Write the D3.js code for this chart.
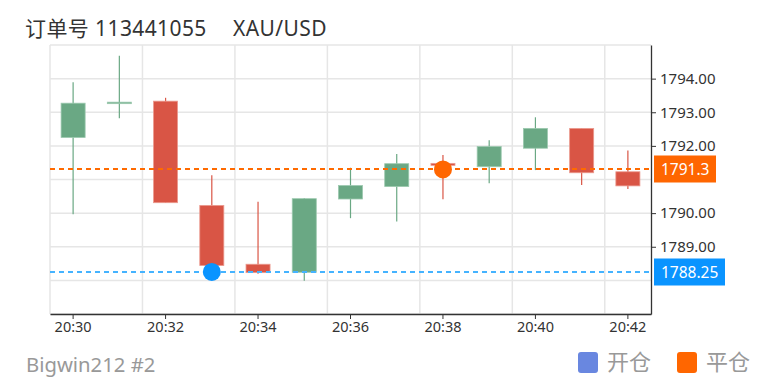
<!DOCTYPE html>
<html>
<head>
<meta charset="utf-8">
<script src="https://cdn.jsdelivr.net/npm/d3@7"></script>
<style>
  body { margin: 0; background: #fff; }
  svg { display: block; font-family: "Noto Sans", "Noto Sans CJK SC", sans-serif; }
</style>
</head>
<body>
<svg width="775" height="387"></svg>
<script>
// candle data
const times = ["20:30", "20:31", "20:32", "20:33", "20:34", "20:35", "20:36",
    "20:37", "20:38", "20:39", "20:40", "20:41", "20:42"];
const open  = [1792.25, 1793.28, 1793.33, 1790.23, 1788.48, 1788.24, 1790.42, 1790.79, 1791.48, 1791.38, 1791.93, 1792.52, 1791.23];
const close = [1793.27, 1793.30, 1790.31, 1788.44, 1788.23, 1790.43, 1790.82, 1791.47, 1791.42, 1791.98, 1792.52, 1791.20, 1790.81];
const low   = [1789.97, 1792.82, 1790.31, 1788.30, 1788.20, 1787.99, 1789.85, 1789.75, 1790.41, 1790.89, 1791.28, 1790.84, 1790.72];
const high  = [1793.89, 1794.68, 1793.43, 1791.13, 1790.34, 1790.45, 1791.35, 1791.76, 1791.73, 1792.17, 1792.85, 1792.52, 1791.86];

const yTicks = [1789, 1790, 1792, 1793, 1794];
const xTicks = ["20:30", "20:32", "20:34", "20:36", "20:38", "20:40", "20:42"];

const openPrice = 1788.25, openTime = "20:33";
const closePrice = 1791.3, closeTime = "20:38";

const up = "#6aa884", down = "#d95545";
const blue = "#0a94ff", orange = "#ff6600";

let svg = d3.select("svg");

let x = d3.scaleBand().domain(times).range([50, 651]);
let y = d3.scaleLinear().domain([1787, 1795]).range([314, 45]);
let bw = x.bandwidth();

// title
svg.append("text").attr("x", 25).attr("y", 36).attr("font-size", 21).attr("letter-spacing", 0.4)
    .attr("fill", "#333").text("订单号 113441055");
svg.append("text").attr("x", 233).attr("y", 36).attr("font-size", 21).attr("letter-spacing", 0.4)
    .attr("fill", "#333").text("XAU/USD");

// grid
let grid = svg.append("g").attr("stroke", "#e6e6e6").attr("stroke-width", 1.5);
grid.selectAll(".h").data(d3.range(1787, 1796)).enter().append("line")
    .attr("x1", 50).attr("x2", 651)
    .attr("y1", d => y(d)).attr("y2", d => y(d));
grid.selectAll(".v").data(d3.range(0, 13, 2)).enter().append("line")
    .attr("x1", d => 50 + d * bw).attr("x2", d => 50 + d * bw)
    .attr("y1", 45).attr("y2", 314);

// candles
let candles = times.map((t, i) => ({t: t, o: open[i], c: close[i], l: low[i], h: high[i]}));
let cw = bw * 0.52;
let g = svg.append("g");
g.selectAll(".wick").data(candles).enter().append("line")
    .attr("x1", d => x(d.t) + bw / 2).attr("x2", d => x(d.t) + bw / 2)
    .attr("y1", d => y(d.h)).attr("y2", d => y(d.l))
    .attr("stroke", d => d.c >= d.o ? up : down).attr("stroke-width", 1.2);
g.selectAll(".body").data(candles).enter().append("rect")
    .attr("x", d => x(d.t) + bw / 2 - cw / 2)
    .attr("width", cw)
    .attr("y", d => y(Math.max(d.o, d.c)))
    .attr("height", d => Math.max(1.5, Math.abs(y(d.o) - y(d.c))))
    .attr("fill", d => d.c >= d.o ? up : down)
    .attr("stroke", d => d.c >= d.o ? "#9cc9af" : "#eb9a8f")
    .attr("stroke-width", 0.8);

// mark lines with price labels
function markLine(v, lineCol, boxCol, w) {
    let yy = Math.round(y(v));
    svg.append("line").attr("x1", 50).attr("x2", 651).attr("y1", yy).attr("y2", yy)
        .attr("stroke", lineCol).attr("stroke-width", 1.8).attr("stroke-dasharray", "5,4");
    svg.append("rect").attr("x", 654).attr("y", yy - 13.5).attr("width", w).attr("height", 27)
        .attr("fill", boxCol);
    svg.append("text").attr("x", 661).attr("y", yy + 5.5).attr("font-size", 15.5).attr("fill", "#fff")
        .text(v);
}
markLine(closePrice, "#ff6a00", orange, 62);
markLine(openPrice, "#45b3ff", blue, 71);

// trade points
svg.append("circle").attr("cx", x(openTime) + bw / 2).attr("cy", y(openPrice)).attr("r", 9).attr("fill", blue);
svg.append("circle").attr("cx", x(closeTime) + bw / 2).attr("cy", y(closePrice)).attr("r", 9).attr("fill", orange);

// axes
let yAxis = svg.append("g").attr("transform", "translate(651,0)")
    .call(d3.axisRight(y).tickValues(yTicks).tickFormat(d3.format(".2f")).tickSize(5).tickSizeOuter(0).tickPadding(4));
let xAxis = svg.append("g").attr("transform", "translate(0,314)")
    .call(d3.axisBottom(x).tickValues(xTicks).tickSize(5).tickSizeOuter(0).tickPadding(3));
yAxis.attr("font-size", 15);
xAxis.attr("font-size", 14.5);
[yAxis, xAxis].forEach(a => {
    a.attr("font-family", null);
    a.select(".domain").attr("stroke", "#333").attr("stroke-width", 1.3);
    a.selectAll(".tick line").attr("stroke", "#333");
    a.selectAll(".tick text").attr("fill", "#333");
});

// footer
svg.append("text").attr("x", 26).attr("y", 372).attr("font-size", 20.3).attr("fill", "#999")
    .text("Bigwin212 #2");
let legend = [{name: "开仓", col: "#6987e0", x: 578}, {name: "平仓", col: orange, x: 677}];
legend.forEach(d => {
    svg.append("rect").attr("x", d.x).attr("y", 352).attr("width", 20).attr("height", 21)
        .attr("rx", 3).attr("fill", d.col);
    svg.append("text").attr("x", d.x + 29).attr("y", 370).attr("font-size", 22).attr("fill", "#999")
        .text(d.name);
});
</script>
</body>
</html>
